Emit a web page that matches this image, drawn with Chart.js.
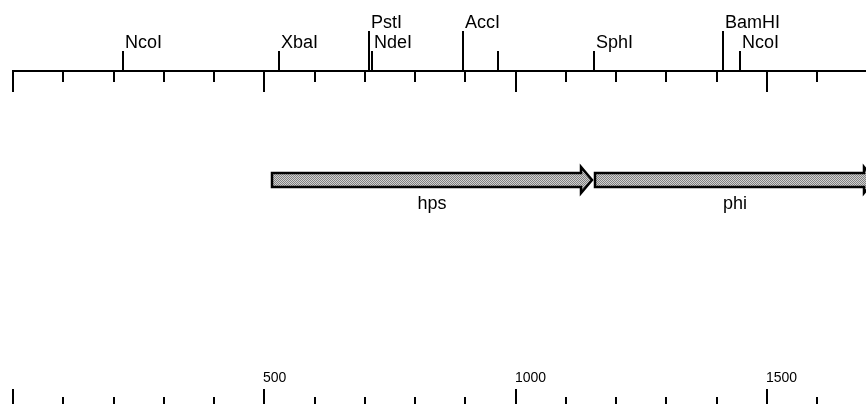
<!DOCTYPE html>
<html>
<head>
<meta charset="utf-8">
<script src="https://cdn.jsdelivr.net/npm/chart.js@4/dist/chart.umd.min.js"></script>
<style>
    html, body { margin: 0; padding: 0; background: #fff; }
    #wrap { width: 866px; height: 404px; position: relative; }
</style>
</head>
<body>
<div id="wrap"><canvas id="mapChart"></canvas></div>
<script>
// restriction sites (bp)
const siteNames = ['NcoI', 'XbaI', 'PstI', 'NdeI', 'AccI', '', 'SphI', 'BamHI', 'NcoI'];
const sitePositions = [218, 530, 708, 715, 896, 965, 1156, 1412, 1446];
const siteRows = [1, 1, 2, 1, 2, 1, 1, 2, 1];

// genes (bp)
const geneNames = ['hps', 'phi'];
const geneStarts = [515, 1158];
const geneEnds = [1152, 1715];

// ruler ticks
const majorTicks = [0, 500, 1000, 1500];
const minorTicks = [100, 200, 300, 400, 600, 700, 800, 900, 1100, 1200, 1300, 1400, 1600];
const tickLabels = ['', '500', '1000', '1500'];

const axisMin = -26;
const axisMax = 1697;

function makePattern(ctx) {
    const c = document.createElement('canvas');
    c.width = 2; c.height = 2;
    const p = c.getContext('2d');
    p.fillStyle = '#cfcfcf';
    p.fillRect(0, 0, 2, 2);
    p.fillStyle = '#808080';
    p.fillRect(0, 0, 1, 1);
    p.fillRect(1, 1, 1, 1);
    return ctx.createPattern(c, 'repeat');
}

const mapPlugin = {
    id: 'mapPlugin',
    afterDatasetsDraw(chart) {
        const ctx = chart.ctx;
        const x = chart.scales.x;
        const y = chart.scales.y;
        const px = v => Math.round(x.getPixelForValue(v));

        ctx.save();
        ctx.strokeStyle = '#000';
        ctx.fillStyle = '#000';
        ctx.lineWidth = 2;
        ctx.lineCap = 'butt';

        // top ruler
        const axisY = y.getPixelForValue(71);
        ctx.beginPath();
        ctx.moveTo(px(majorTicks[0]) - 1, axisY);
        ctx.lineTo(chart.width, axisY);
        ctx.stroke();

        majorTicks.forEach(t => {
            ctx.beginPath();
            ctx.moveTo(px(t), axisY);
            ctx.lineTo(px(t), y.getPixelForValue(92));
            ctx.stroke();
        });
        minorTicks.forEach(t => {
            ctx.beginPath();
            ctx.moveTo(px(t), axisY);
            ctx.lineTo(px(t), y.getPixelForValue(82));
            ctx.stroke();
        });

        // restriction sites
        ctx.font = '18px "Liberation Sans", Arial, sans-serif';
        ctx.textBaseline = 'alphabetic';
        ctx.textAlign = 'left';
        sitePositions.forEach((pos, i) => {
            const top = siteRows[i] === 2 ? 31 : 51;
            const sx = px(pos);
            ctx.beginPath();
            ctx.moveTo(sx, axisY);
            ctx.lineTo(sx, y.getPixelForValue(top));
            ctx.stroke();
            if (siteNames[i]) {
                ctx.fillText(siteNames[i], sx + 2, y.getPixelForValue(top - 3));
            }
        });

        // genes
        const pattern = makePattern(ctx);
        const cy = y.getPixelForValue(180);
        geneNames.forEach((name, i) => {
            const x1 = px(geneStarts[i]);
            const x2 = px(geneEnds[i]);
            const headBase = x2 - 11;
            ctx.beginPath();
            ctx.moveTo(x1, cy - 7);
            ctx.lineTo(headBase, cy - 7);
            ctx.lineTo(headBase, cy - 13);
            ctx.lineTo(x2, cy);
            ctx.lineTo(headBase, cy + 13);
            ctx.lineTo(headBase, cy + 7);
            ctx.lineTo(x1, cy + 7);
            ctx.closePath();
            ctx.fillStyle = pattern;
            ctx.fill();
            ctx.lineJoin = 'miter';
            ctx.lineWidth = 2.5;
            ctx.stroke();
            ctx.lineWidth = 2;

            ctx.fillStyle = '#000';
            ctx.textAlign = 'center';
            ctx.fillText(name, (x1 + x2) / 2, y.getPixelForValue(209));
        });

        // bottom ruler
        ctx.textAlign = 'left';
        ctx.font = '14px "Liberation Sans", Arial, sans-serif';
        majorTicks.forEach((t, i) => {
            ctx.beginPath();
            ctx.moveTo(px(t), y.getPixelForValue(389));
            ctx.lineTo(px(t), chart.height);
            ctx.stroke();
            if (tickLabels[i]) ctx.fillText(tickLabels[i], px(t) - 1, y.getPixelForValue(382));
        });
        minorTicks.forEach(t => {
            ctx.beginPath();
            ctx.moveTo(px(t), y.getPixelForValue(397));
            ctx.lineTo(px(t), chart.height);
            ctx.stroke();
        });

        ctx.restore();
    }
};

new Chart(document.getElementById('mapChart'), {
    type: 'scatter',
    data: { datasets: [] },
    options: {
        responsive: true,
        maintainAspectRatio: false,
        animation: false,
        layout: { padding: 0 },
        plugins: {
            legend: { display: false },
            tooltip: { enabled: false }
        },
        scales: {
            x: { type: 'linear', min: axisMin, max: axisMax, display: false },
            y: { type: 'linear', min: 0, max: 404, reverse: true, display: false }
        }
    },
    plugins: [mapPlugin]
});
</script>
</body>
</html>
